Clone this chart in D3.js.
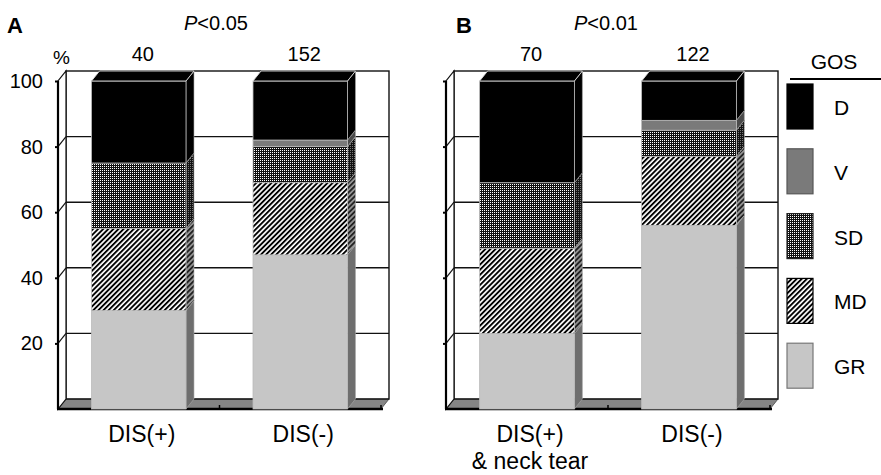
<!DOCTYPE html>
<html lang="en">
<head>
<meta charset="UTF-8">
<title>GOS by DIS</title>
<style>
  body { margin: 0; background: #fff; }
  svg { display: block; font-family: "Liberation Sans", Arial, sans-serif; }
</style>
</head>
<body>
<script src="https://cdnjs.cloudflare.com/ajax/libs/d3/7.8.5/d3.min.js"></script>
<script>
'use strict';

// GOS levels, bottom of the stack to top
const gos = ["GR", "MD", "SD", "V", "D"];
const legendOrder = ["D", "V", "SD", "MD", "GR"];

// panel A
const groupsA = ["DIS(+)", "DIS(-)"];
const countsA = [40, 152];
const pctA = [
  [30, 25, 20, 0, 25],
  [47, 22, 11, 2, 18]
];

// panel B
const groupsB = ["DIS(+)|& neck tear", "DIS(-)"];
const countsB = [70, 122];
const pctB = [
  [23, 26, 20, 0, 31],
  [56, 21, 8, 3, 12]
];

const pLabels = ["P<0.05", "P<0.01"];
const yTicks = [20, 40, 60, 80, 100];

const W = 881, H = 475;
const dx = 8, dy = -10;   // depth of the 3D box

const svg = d3.select("body").append("svg")
  .attr("width", W)
  .attr("height", H);

// patterns
const defs = svg.append("defs");

function dotPattern(id, bg, dot) {
  const p = defs.append("pattern").attr("id", id)
    .attr("patternUnits", "userSpaceOnUse")
    .attr("width", 2).attr("height", 2);
  p.append("rect").attr("width", 2).attr("height", 2).attr("fill", bg);
  p.append("rect").attr("width", 1).attr("height", 1).attr("fill", dot);
}
function hatchPattern(id, bg, line) {
  const p = defs.append("pattern").attr("id", id)
    .attr("patternUnits", "userSpaceOnUse")
    .attr("width", 3.6).attr("height", 3.6)
    .attr("patternTransform", "rotate(45)");
  p.append("rect").attr("width", 3.6).attr("height", 3.6).attr("fill", bg);
  p.append("rect").attr("width", 1.9).attr("height", 3.6).attr("fill", line);
}
dotPattern("sd", "#111", "#fff");
dotPattern("sdSide", "#111", "#777");
hatchPattern("md", "#fff", "#000");
hatchPattern("mdSide", "#999", "#222");

const frontFill = { D: "#000", V: "#7a7a7a", SD: "url(#sd)", MD: "url(#md)", GR: "#c6c6c6" };
const sideFill  = { D: "#000", V: "#4a4a4a", SD: "url(#sdSide)", MD: "url(#mdSide)", GR: "#6e6e6e" };

const y = d3.scaleLinear().domain([0, 100]).range([409, 81]);

const pts = a => a.map(p => p.join(",")).join(" ");

function drawPanel(cfg) {
  const g = svg.append("g");
  const x = d3.scaleBand().domain(cfg.groups).range([cfg.x0, cfg.x1]);
  const x0 = cfg.x0, x1 = cfg.x1;
  const y0 = y(0), yTop = y(100);

  // floor
  g.append("polygon")
    .attr("points", pts([[x0, y0], [x1, y0], [x1 + dx, y0 + dy], [x0 + dx, y0 + dy]]))
    .attr("fill", "#858585").attr("stroke", "#444").attr("stroke-width", 0.8);

  // back wall
  g.append("rect")
    .attr("x", x0 + dx).attr("y", yTop + dy)
    .attr("width", x1 - x0).attr("height", y0 - yTop)
    .attr("fill", "none").attr("stroke", "#111").attr("stroke-width", 1.4);

  // left side wall
  g.append("polygon")
    .attr("points", pts([[x0, y0], [x0, yTop], [x0 + dx, yTop + dy], [x0 + dx, y0 + dy]]))
    .attr("fill", "#fff").attr("stroke", "#111").attr("stroke-width", 1.2);

  // gridlines on back wall and side wall
  yTicks.filter(t => t < 100).forEach(t => {
    g.append("line")
      .attr("x1", x0 + dx).attr("x2", x1 + dx)
      .attr("y1", y(t) + dy).attr("y2", y(t) + dy)
      .attr("stroke", "#111").attr("stroke-width", 1.4);
    g.append("line")
      .attr("x1", x0).attr("x2", x0 + dx)
      .attr("y1", y(t)).attr("y2", y(t) + dy)
      .attr("stroke", "#111").attr("stroke-width", 1.2);
  });

  // front axis
  const axis = g.append("g")
    .attr("transform", `translate(${x0},0)`)
    .call(d3.axisLeft(y).tickValues(yTicks).tickSize(3).tickFormat(cfg.showTicks ? d3.format("d") : ""));
  axis.select(".domain").attr("stroke", "#000").attr("stroke-width", 2.2)
    .attr("d", `M0,${y0}V${yTop}`);
  axis.selectAll(".tick line").attr("stroke", "#000").attr("stroke-width", 2);
  axis.selectAll(".tick text")
    .attr("x", -15).attr("font-size", 20).attr("fill", "#000")
    .attr("font-family", "'Liberation Sans', Arial, sans-serif");

  // floor front edge with category ticks
  g.append("line")
    .attr("x1", x0 - 1).attr("x2", x1 + 2)
    .attr("y1", y0).attr("y2", y0)
    .attr("stroke", "#000").attr("stroke-width", 2.4);
  [x0 + x.step(), x1].forEach(t => {
    g.append("line")
      .attr("x1", t).attr("x2", t)
      .attr("y1", y0).attr("y2", y0 - 4)
      .attr("stroke", "#000").attr("stroke-width", 1.5);
  });

  // stacked 3D bars
  const rows = cfg.groups.map((grp, i) => {
    const r = { group: grp };
    gos.forEach((k, j) => { r[k] = cfg.pct[i][j]; });
    return r;
  });
  const series = d3.stack().keys(gos)(rows);
  const bwFrac = 0.585;

  cfg.groups.forEach((grp, i) => {
    const bw = x.bandwidth() * bwFrac;
    const bx = x(grp) + (x.bandwidth() - bw) / 2;
    const segs = series.map(s => ({ key: s.key, lo: s[i][0], hi: s[i][1] }))
      .filter(s => s.hi - s.lo > 0);
    const bar = g.append("g");
    segs.forEach((s, j) => {
      const yl = y(s.lo), yh = y(s.hi);
      bar.append("polygon")
        .attr("points", pts([[bx + bw, yl], [bx + bw + dx, yl + dy], [bx + bw + dx, yh + dy], [bx + bw, yh]]))
        .attr("fill", sideFill[s.key]).attr("stroke", "#aaa").attr("stroke-width", 0.6);
      bar.append("rect")
        .attr("x", bx).attr("y", yh)
        .attr("width", bw).attr("height", yl - yh)
        .attr("fill", frontFill[s.key]).attr("stroke", "#bbb").attr("stroke-width", 0.8);
      if (j === segs.length - 1) {
        bar.append("polygon")
          .attr("points", pts([[bx, yh], [bx + dx, yh + dy], [bx + bw + dx, yh + dy], [bx + bw, yh]]))
          .attr("fill", frontFill[s.key]).attr("stroke", "#ddd").attr("stroke-width", 0.9);
      }
    });

    // n above each bar
    g.append("text")
      .attr("x", x(grp) + x.bandwidth() / 2 + 4).attr("y", 61)
      .attr("text-anchor", "middle").attr("font-size", 20)
      .text(cfg.counts[i]);

    // category label
    const lines = grp.split("|");
    lines.forEach((ln, k) => {
      g.append("text")
        .attr("x", x(grp) + x.bandwidth() / 2 + 3).attr("y", 442 + k * 27)
        .attr("text-anchor", "middle").attr("font-size", 23)
        .text(ln);
    });
  });

  // panel letter and P value
  g.append("text")
    .attr("x", cfg.letterX).attr("y", 33)
    .attr("font-size", 22).attr("font-weight", "bold")
    .text(cfg.letter);
  const pv = g.append("text")
    .attr("x", cfg.pX).attr("y", 30)
    .attr("text-anchor", "middle").attr("font-size", 20);
  pv.append("tspan").attr("font-style", "italic").text(cfg.p.slice(0, 1));
  pv.append("tspan").text(cfg.p.slice(1));
}

drawPanel({ groups: groupsA, counts: countsA, pct: pctA, x0: 58, x1: 381,
  showTicks: true, letter: "A", letterX: 7, p: pLabels[0], pX: 216 });
drawPanel({ groups: groupsB, counts: countsB, pct: pctB, x0: 446, x1: 770,
  showTicks: false, letter: "B", letterX: 456, p: pLabels[1], pX: 606 });

// percent sign
svg.append("text").attr("x", 53).attr("y", 64).attr("font-size", 19).text("%");

// legend
const leg = svg.append("g");
leg.append("text").attr("x", 834).attr("y", 69)
  .attr("text-anchor", "middle").attr("font-size", 21).text("GOS");
leg.append("line").attr("x1", 790).attr("x2", 881).attr("y1", 79).attr("y2", 79)
  .attr("stroke", "#000").attr("stroke-width", 2);

const legY = d3.scaleBand().domain(legendOrder).range([84, 408]);
const legStroke = { D: "#000", V: "#555", SD: "#222", MD: "#000", GR: "#777" };
legendOrder.forEach(k => {
  leg.append("rect")
    .attr("x", 787).attr("y", legY(k))
    .attr("width", 26).attr("height", 45)
    .attr("fill", frontFill[k]).attr("stroke", legStroke[k]).attr("stroke-width", 1.2);
  leg.append("text")
    .attr("x", 834).attr("y", legY(k) + 31)
    .attr("font-size", 21).text(k);
});
</script>
</body>
</html>
